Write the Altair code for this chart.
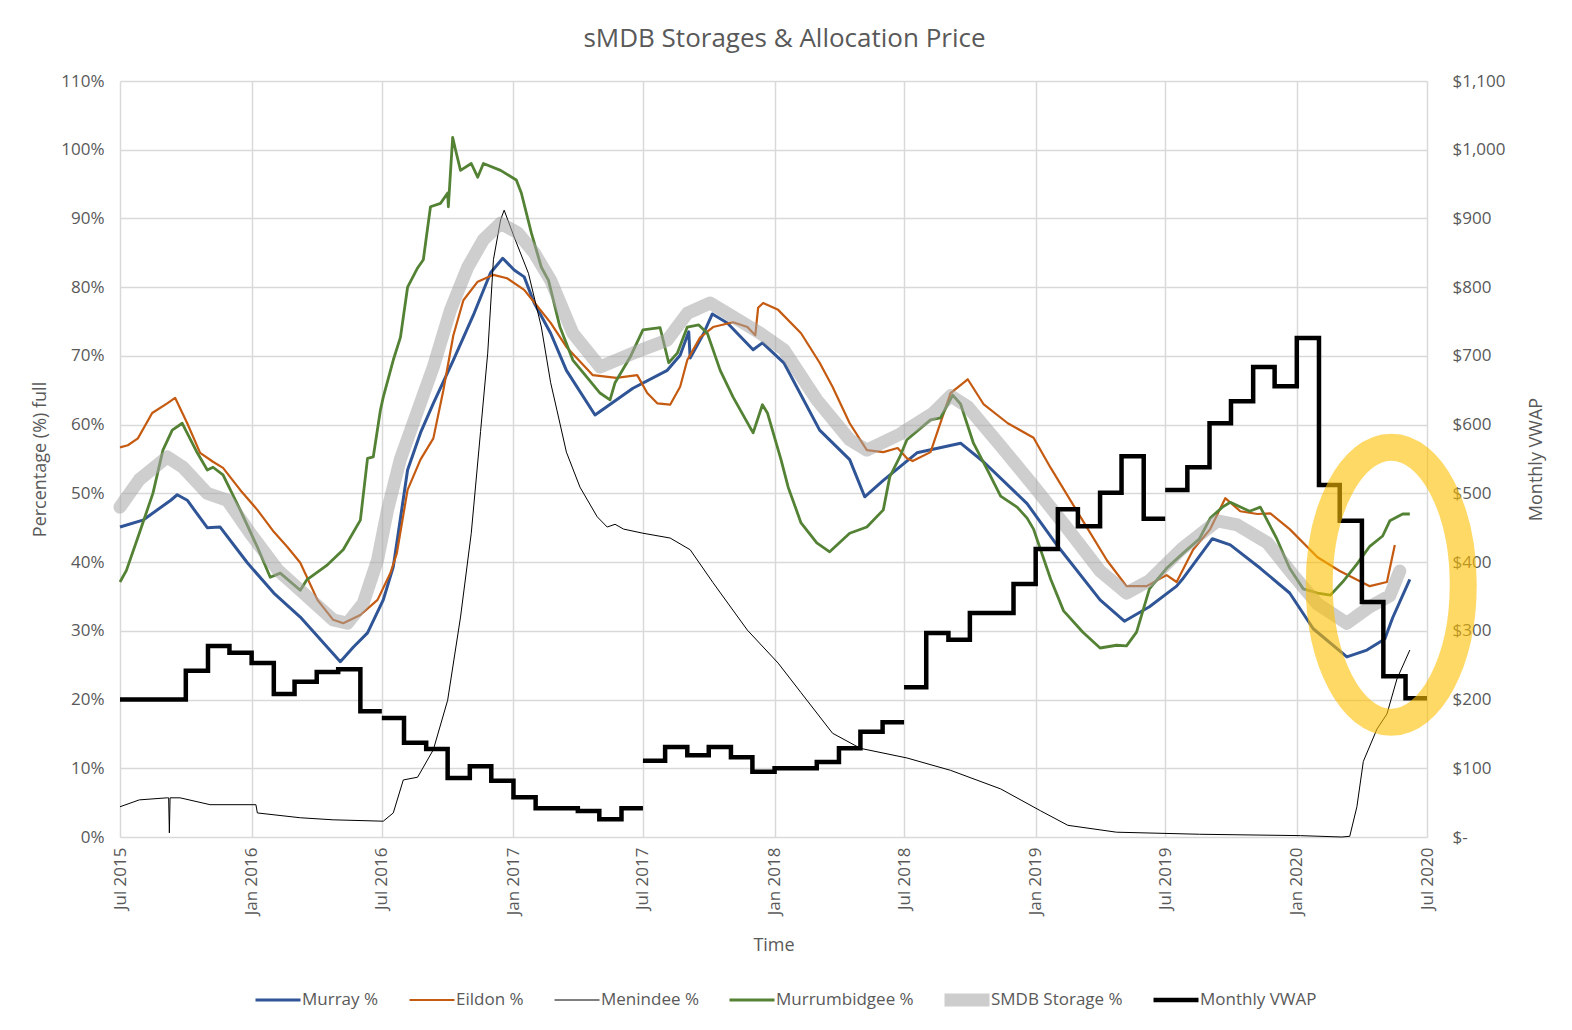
import json
import altair as alt
import pandas as pd

FONT = "Open Sans"
TEXT = "#595959"
GRID = "#D9D9D9"

series_names = ["Murray %", "Eildon %", "Menindee %", "Murrumbidgee %", "SMDB Storage %", "Monthly VWAP"]
series_colors = ["#2F5597", "#C55A11", "#000000", "#548235", "#A5A5A5", "#000000"]
series_widths = [3, 2.2, 1, 2.8, 13, 4.5]
series_opacity = [1, 1, 1, 1, 0.55, 1]
legend_widths = [3, 3, 1, 3.5, 7, 4.5]

murray_dates = ["2015-07-01","2015-08-02","2015-09-10","2015-09-19","2015-10-03","2015-10-31","2015-11-18","2015-12-26","2016-02-01","2016-03-09","2016-05-04","2016-05-22","2016-06-11","2016-07-03","2016-07-17","2016-08-06","2016-08-24","2016-09-11","2016-10-09","2016-11-07","2016-11-30","2016-12-17","2017-01-02","2017-01-16","2017-01-30","2017-02-22","2017-03-16","2017-04-25","2017-06-17","2017-08-04","2017-08-22","2017-09-03","2017-09-05","2017-09-24","2017-10-06","2017-10-27","2017-12-02","2017-12-15","2018-01-14","2018-03-05","2018-04-16","2018-05-07","2018-06-02","2018-07-19","2018-09-18","2018-10-20","2018-12-20","2019-02-01","2019-04-01","2019-05-05","2019-06-09","2019-07-17","2019-07-25","2019-09-05","2019-09-30","2019-11-11","2019-12-22","2020-01-24","2020-03-11","2020-04-08","2020-05-03","2020-05-14","2020-06-07"]
murray_vals = [45.1,46.1,49.0,49.8,49.0,45.0,45.1,39.9,35.5,32.0,25.5,27.6,29.7,34.5,39.3,53.4,58.8,63.1,69.4,76.2,82.1,84.2,82.5,81.5,77.7,73.3,67.9,61.4,65.3,67.9,70.1,73.5,69.7,73.3,76.1,74.8,70.9,71.9,69.0,59.2,54.9,49.5,51.9,55.9,57.3,54.6,48.5,42.3,34.5,31.4,33.5,36.5,37.5,43.4,42.5,39.1,35.5,30.3,26.2,27.2,28.8,31.9,37.5]

eildon_dates = ["2015-07-01","2015-07-12","2015-07-26","2015-08-15","2015-09-05","2015-09-16","2015-10-03","2015-10-21","2015-11-08","2015-11-22","2015-12-16","2016-01-09","2016-02-01","2016-02-20","2016-03-09","2016-04-02","2016-04-24","2016-05-08","2016-06-01","2016-06-25","2016-07-13","2016-07-22","2016-08-06","2016-08-24","2016-09-11","2016-09-25","2016-10-09","2016-10-23","2016-11-12","2016-12-04","2016-12-23","2017-01-16","2017-01-30","2017-02-22","2017-03-16","2017-04-22","2017-05-25","2017-06-23","2017-07-07","2017-07-21","2017-08-08","2017-08-22","2017-09-01","2017-09-19","2017-10-07","2017-11-04","2017-11-24","2017-12-05","2017-12-09","2017-12-16","2018-01-06","2018-02-07","2018-03-05","2018-03-23","2018-04-16","2018-05-10","2018-06-02","2018-06-22","2018-07-05","2018-07-13","2018-08-07","2018-09-04","2018-09-28","2018-10-20","2018-11-23","2018-12-29","2019-01-22","2019-03-08","2019-04-11","2019-05-08","2019-06-05","2019-07-03","2019-07-17","2019-08-09","2019-09-02","2019-09-23","2019-10-14","2019-11-07","2019-11-25","2019-12-22","2020-01-30","2020-03-01","2020-04-12","2020-05-06","2020-05-17"]
eildon_vals = [56.7,57.0,58.0,61.7,63.1,63.9,60.2,55.9,54.6,53.7,50.5,47.6,44.4,42.2,39.9,34.5,31.6,31.1,32.3,34.5,38.4,41.3,50.5,54.9,58.0,65.0,73.0,78.1,80.8,81.8,81.3,79.6,77.8,74.8,71.3,67.2,66.8,67.2,64.6,63.1,62.9,65.5,69.4,72.7,74.2,74.9,74.2,73.0,77.0,77.7,76.7,73.3,69.0,65.5,60.2,56.3,56.0,56.6,55.1,54.7,56.0,64.6,66.6,63.0,60.2,58.1,53.7,46.0,40.2,36.5,36.5,38.1,37.1,41.8,44.8,49.3,47.4,47.0,47.1,44.8,40.7,38.7,36.5,37.1,42.5]

menindee_dates = ["2015-07-01","2015-07-28","2015-09-05","2015-09-07","2015-09-08","2015-09-09","2015-09-23","2015-11-04","2016-01-07","2016-01-09","2016-03-09","2016-04-24","2016-07-03","2016-07-17","2016-07-31","2016-08-20","2016-09-11","2016-10-01","2016-10-19","2016-11-03","2016-11-16","2016-11-26","2016-12-04","2016-12-14","2016-12-19","2017-01-02","2017-01-22","2017-02-09","2017-02-22","2017-03-03","2017-03-16","2017-04-04","2017-04-28","2017-05-12","2017-05-23","2017-06-04","2017-07-01","2017-08-08","2017-09-05","2017-10-07","2017-11-24","2018-01-06","2018-02-07","2018-03-23","2018-05-01","2018-07-05","2018-09-04","2018-11-13","2019-01-08","2019-02-15","2019-04-24","2019-08-18","2020-01-06","2020-03-04","2020-03-15","2020-03-25","2020-04-03","2020-04-22","2020-05-06","2020-05-20","2020-06-07"]
menindee_vals = [4.4,5.4,5.7,5.7,0.6,5.7,5.7,4.7,4.7,3.5,2.8,2.5,2.3,3.5,8.3,8.7,12.7,19.9,32.0,44.2,59.0,70.4,84.0,89.8,91.2,87.3,82.0,74.2,66.1,62.0,56.0,50.9,46.6,45.1,45.5,44.8,44.2,43.5,41.8,37.0,30.1,25.3,21.0,15.1,12.9,11.5,9.7,7.0,3.8,1.7,0.7,0.4,0.2,0.0,0.1,4.4,11.0,15.7,17.9,23.0,27.2]

murrum_dates = ["2015-07-01","2015-07-10","2015-07-28","2015-08-16","2015-08-30","2015-09-12","2015-09-26","2015-10-17","2015-10-31","2015-11-08","2015-11-22","2015-12-16","2016-01-09","2016-01-27","2016-02-10","2016-03-09","2016-03-18","2016-04-16","2016-05-08","2016-06-01","2016-06-11","2016-06-19","2016-06-29","2016-07-03","2016-07-17","2016-07-27","2016-08-06","2016-08-20","2016-08-28","2016-09-07","2016-09-21","2016-10-01","2016-10-02","2016-10-08","2016-10-12","2016-10-19","2016-11-03","2016-11-12","2016-11-20","2016-12-14","2017-01-05","2017-01-12","2017-01-26","2017-02-09","2017-02-19","2017-03-07","2017-03-25","2017-05-02","2017-05-16","2017-05-23","2017-06-13","2017-07-01","2017-07-25","2017-08-06","2017-08-18","2017-09-01","2017-09-17","2017-09-29","2017-10-17","2017-11-04","2017-12-02","2017-12-15","2017-12-22","2018-01-10","2018-01-20","2018-02-07","2018-03-01","2018-03-19","2018-04-16","2018-05-10","2018-06-02","2018-06-11","2018-06-25","2018-07-05","2018-08-07","2018-08-21","2018-09-07","2018-09-18","2018-10-06","2018-10-26","2018-11-13","2018-12-06","2018-12-20","2018-12-29","2019-01-22","2019-02-09","2019-03-08","2019-04-01","2019-04-24","2019-05-08","2019-05-22","2019-06-09","2019-07-03","2019-07-25","2019-08-18","2019-09-02","2019-09-19","2019-09-30","2019-10-27","2019-11-11","2019-12-04","2019-12-22","2020-01-10","2020-01-30","2020-02-17","2020-03-05","2020-03-25","2020-04-12","2020-04-30","2020-05-10","2020-05-28","2020-06-07"]
murrum_vals = [37.1,38.8,44.2,50.0,56.3,59.2,60.2,55.9,53.4,53.8,52.7,47.6,42.2,37.8,38.4,35.9,37.4,39.6,41.8,46.1,55.1,55.3,62.1,64.0,69.4,72.7,80.0,82.8,84.0,91.7,92.2,93.7,91.7,101.8,100.0,97.0,98.0,96.0,98.0,97.0,95.6,93.7,87.9,82.9,81.0,74.2,69.4,64.6,63.6,66.1,69.8,73.8,74.1,69.0,70.4,74.2,74.5,73.3,67.9,64.0,58.8,62.9,61.7,54.9,50.9,45.7,42.8,41.5,44.2,45.1,47.6,52.4,55.3,57.8,60.7,61.0,64.3,63.0,57.3,53.3,49.6,48.0,46.4,44.8,37.5,32.9,29.8,27.5,27.9,27.8,29.8,36.1,39.1,41.2,43.4,46.4,48.0,48.7,47.4,48.0,43.4,39.1,36.1,35.5,35.2,37.1,39.7,42.3,43.8,46.0,47.0,47.0]

smdb_dates = ["2015-07-01","2015-07-28","2015-09-05","2015-09-27","2015-10-31","2015-11-28","2015-12-30","2016-02-07","2016-03-09","2016-04-24","2016-05-14","2016-06-05","2016-06-25","2016-07-09","2016-07-27","2016-08-20","2016-09-11","2016-10-05","2016-10-29","2016-11-20","2016-12-14","2017-01-07","2017-01-30","2017-02-22","2017-03-25","2017-05-02","2017-06-17","2017-08-04","2017-09-01","2017-10-03","2017-11-04","2017-12-12","2018-01-14","2018-03-01","2018-04-16","2018-05-10","2018-06-25","2018-08-11","2018-09-04","2018-09-28","2018-11-13","2018-12-29","2019-02-15","2019-04-01","2019-05-08","2019-06-09","2019-07-25","2019-09-12","2019-10-10","2019-11-21","2019-12-27","2020-01-30","2020-03-11","2020-04-12","2020-05-10","2020-05-24"]
smdb_vals = [48.0,52.0,55.3,53.8,50.0,49.0,44.2,38.8,35.9,31.6,31.1,34.0,40.3,47.6,55.0,62.0,68.4,76.7,82.9,86.9,89.3,87.9,85.0,81.0,73.3,68.4,70.4,72.3,76.2,77.7,75.7,73.3,70.9,63.6,57.8,56.3,58.6,61.7,64.2,62.6,56.9,51.1,44.8,38.7,35.5,37.3,42.0,46.0,45.4,42.8,38.1,33.9,31.1,33.5,35.1,38.7]

# Monthly VWAP ($/ML), one step per month, one run per financial year
vwap_fy_starts = ["2015-07-01", "2016-07-01", "2017-07-01", "2018-07-01", "2019-07-01"]
vwap_fy16 = [200, 200, 200, 242, 278, 268, 253, 208, 226, 240, 244, 183]
vwap_fy17 = [173, 137, 128, 86, 103, 82, 58, 42, 42, 38, 26, 42]
vwap_fy18 = [111, 131, 119, 131, 116, 95, 100, 100, 109, 129, 153, 167]
vwap_fy19 = [218, 297, 287, 326, 326, 368, 419, 477, 452, 501, 554, 463]
vwap_fy20 = [505, 538, 602, 634, 684, 656, 726, 512, 460, 342, 234, 202]

# highlight ellipse (annotation)
ellipse_date = ["2020-05-12"]
ellipse_val = [36.7]

x_ticks = ["2015-07-01", "2016-01-01", "2016-07-01", "2017-01-01", "2017-07-01", "2018-01-01",
           "2018-07-01", "2019-01-01", "2019-07-01", "2020-01-01", "2020-07-01"]

# ---------- tables ----------
frames = []
for name, d, v in [("Murray %", murray_dates, murray_vals), ("Eildon %", eildon_dates, eildon_vals),
                   ("Menindee %", menindee_dates, menindee_vals),
                   ("Murrumbidgee %", murrum_dates, murrum_vals),
                   ("SMDB Storage %", smdb_dates, smdb_vals)]:
    assert len(d) == len(v), name
    frames.append(pd.DataFrame({"date": d, "value": v, "series": name}))
storage = pd.concat(frames, ignore_index=True)

vrows = []
for start, vals in zip(vwap_fy_starts, [vwap_fy16, vwap_fy17, vwap_fy18, vwap_fy19, vwap_fy20]):
    months = pd.date_range(start, periods=13, freq="MS")
    for i, m in enumerate(months):
        vrows.append({"date": m.strftime("%Y-%m-%d"), "vwap": vals[min(i, 11)], "fy": start,
                      "series": "Monthly VWAP"})
vwap = pd.DataFrame(vrows)

ell = pd.DataFrame({"date": ellipse_date, "value": ellipse_val})


def utc(s):
    y, m, d = (int(p) for p in s.split("-"))
    return alt.DateTime(year=y, month=m, date=d, utc=True)


x_enc = alt.X("date:T", title="Time",
              scale=alt.Scale(type="utc", domain=[utc("2015-07-01"), utc("2020-07-01")], nice=False),
              axis=alt.Axis(values=[utc(s) for s in x_ticks],
                            labelExpr="utcFormat(datum.value, '%b %Y')",
                            labelAngle=270, labelPadding=10, titlePadding=22, grid=True,
                            labelFontSize=17))

y_left = alt.Y("value:Q", title="Percentage (%) full",
               scale=alt.Scale(domain=[0, 110], nice=False),
               axis=alt.Axis(values=list(range(0, 111, 10)), labelExpr="datum.value + '%'",
                             labelPadding=16, titlePadding=11, grid=True, orient="left"))

names_js = json.dumps(series_names)
legend = alt.Legend(
    title=None,
    symbolType="M-1,0H8", symbolSize=100, clipHeight=20,
    symbolStrokeWidth=alt.ExprRef(expr=json.dumps(legend_widths) + "[indexof(" + names_js + ", datum.value)]"),
    symbolOpacity=alt.ExprRef(expr=json.dumps(series_opacity) + "[indexof(" + names_js + ", datum.value)]"),
)
color_enc = alt.Color("series:N", scale=alt.Scale(type="ordinal", domain=series_names, range=series_colors),
                      legend=legend)
width_enc = alt.StrokeWidth("series:N", scale=alt.Scale(type="ordinal", domain=series_names, range=series_widths),
                            legend=None)
op_enc = alt.Opacity("series:N", scale=alt.Scale(type="ordinal", domain=series_names, range=series_opacity),
                     legend=None)

layers = []
for name in series_names[:5]:
    cap = "round" if name == "SMDB Storage %" else "butt"
    layers.append(
        alt.Chart(storage).transform_filter(alt.datum.series == name)
        .mark_line(strokeCap=cap, strokeJoin="round")
        .encode(x=x_enc, y=y_left, color=color_enc, strokeWidth=width_enc, opacity=op_enc)
    )
left = alt.layer(*layers)

vwap_layer = alt.Chart(vwap).mark_line(interpolate="step-after", strokeJoin="miter").encode(
    x=x_enc,
    y=alt.Y("vwap:Q", title="Monthly VWAP",
            scale=alt.Scale(domain=[0, 1100], nice=False),
            axis=alt.Axis(values=list(range(0, 1101, 100)), orient="right", grid=False,
                          labelExpr="datum.value == 0 ? '$-' : '$' + format(datum.value, ',')",
                          labelAlign="left", labelPadding=25, titlePadding=40, titleAngle=270)),
    detail="fy:N", color=color_enc, strokeWidth=width_enc, opacity=op_enc,
)

ellipse_shape = "M0,-1.91A1,1.91,0,1,1,0,1.91A1,1.91,0,1,1,0,-1.91Z"
ellipse_layer = alt.Chart(ell).mark_point(
    shape=ellipse_shape, filled=False, stroke="#FFC000", color="#FFC000",
    strokeWidth=27, opacity=0.6, size=20736,
).encode(
    x=x_enc,
    y=alt.Y("value:Q", scale=alt.Scale(domain=[0, 110], nice=False), axis=None),
)

chart = alt.layer(left, vwap_layer, ellipse_layer).resolve_scale(y="independent").properties(
    width=1307, height=756,
    autosize=alt.AutoSizeParams(type="none"),
    padding={"left": 112, "top": 73, "right": 137, "bottom": 185},
    title=alt.TitleParams("sMDB Storages & Allocation Price", anchor="middle", fontSize=26,
                          font=FONT, color=TEXT, fontWeight="normal", offset=20, dx=11),
).configure_view(strokeWidth=0).configure_axis(
    domain=False, ticks=False, gridColor=GRID, gridWidth=1.5,
    labelFont=FONT, labelColor=TEXT, labelFontSize=17,
    titleFont=FONT, titleColor=TEXT, titleFontSize=18, titleFontWeight="normal",
).configure_legend(
    orient="none", legendX=129, legendY=909, direction="horizontal", columns=6,
    labelFont=FONT, labelFontSize=17, labelColor=TEXT,
    columnPadding=24, labelOffset=30,
)

chart.save("out.html", embed_options={"renderer": "svg", "actions": False})
